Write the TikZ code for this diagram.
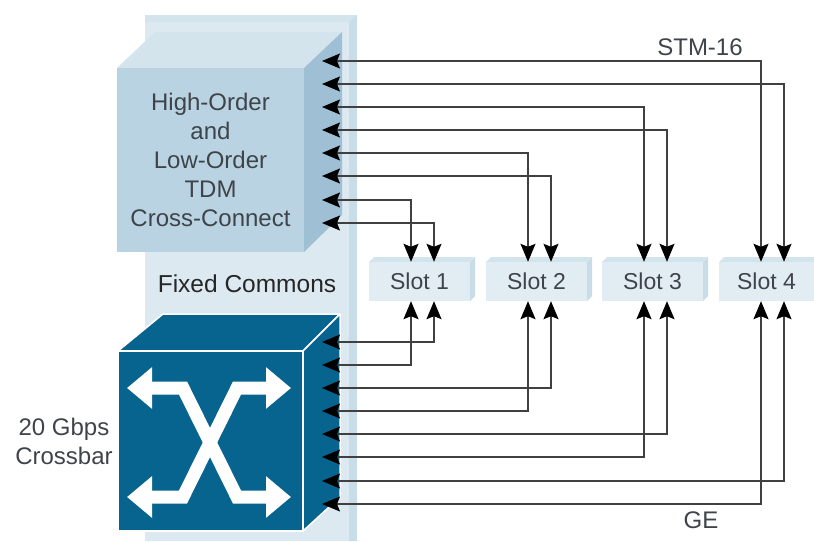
\documentclass[tikz,border=0pt]{standalone}
\usepackage{fontspec}
\setmainfont{Liberation Sans}
\usetikzlibrary{arrows.meta}
\definecolor{panelfront}{HTML}{DCE9F1}
\definecolor{panelside}{HTML}{C9DDE9}
\definecolor{slotfront}{HTML}{E1ECF3}
\definecolor{tdmfront}{HTML}{B9D3E2}
\definecolor{tdmtop}{HTML}{D4E4ED}
\definecolor{tdmside}{HTML}{9FC0D4}
\definecolor{xbarblue}{HTML}{07648F}
\definecolor{inktext}{HTML}{3E444A}
\tikzstyle{textlabel} = [text=inktext, font=\fontsize{24}{29}\selectfont, align=center]
\tikzstyle{slotbox} = [rectangle, fill=slotfront, text=inktext, inner sep=0pt,
    minimum width=101, minimum height=39, font=\fontsize{23}{26}\selectfont]
\tikzstyle{wire} = [line width=1.2pt, draw=black!75,
    {Stealth[length=18pt,width=15pt,inset=3pt,color=black]}-{Stealth[length=18pt,width=15pt,inset=3pt,color=black]}]
\tikzstyle{xarrow} = [line width=13pt, draw=white, line join=miter,
    {Triangle[length=25pt,width=40pt]}-{Triangle[length=25pt,width=40pt]}]

\begin{document}
\begin{tikzpicture}[x=1pt, y=-1pt]
    \useasboundingbox (0,0) rectangle (814,541);

    % fixed commons panel
    \fill [panelside] (145,22) -- (152,15) -- (357,15) -- (357,541) -- (145,541) -- cycle;
    \fill [panelfront] (145,22) -- (349,22) -- (349,541) -- (145,541) -- cycle;
    \fill [tdmtop] (145,15) -- (357,15) -- (349,22) -- (145,22) -- cycle;

    % tdm cube
    \fill [tdmtop] (117,68) -- (155,32) -- (342,32) -- (304,68) -- cycle;
    \fill [tdmside] (304,68) -- (342,32) -- (342,215) -- (304,252) -- cycle;
    \node (tdm) [textlabel, fill=tdmfront, minimum width=187, minimum height=184, inner sep=0pt]
        at (210.5,160) {High-Order\\and\\Low-Order\\TDM\\Cross-Connect};

    % crossbar cube
    \fill [xbarblue, draw=white, line width=1.5pt, line join=round] (118,351) -- (163,314) -- (340,314) -- (303,351) -- cycle;
    \fill [xbarblue, draw=white, line width=1.5pt, line join=round] (303,351) -- (340,314) -- (340,497) -- (303,531) -- cycle;
    \node (xbar) [fill=xbarblue, draw=white, line width=1.5pt, minimum width=185, minimum height=180, inner sep=0pt] at (210.5,441) {};
    \coordinate (xa) at (127,388);
    \coordinate (xb) at (183,388);
    \coordinate (xc) at (237,388);
    \coordinate (xd) at (291,388);
    \coordinate (xe) at (127,497);
    \coordinate (xf) at (183,497);
    \coordinate (xg) at (237,497);
    \coordinate (xh) at (291,497);
    \draw [xarrow] (xa) -- (xb) -- (xg) -- (xh);
    \draw [xarrow] (xd) -- (xc) -- (xf) -- (xe);

    % slots
    \fill [panelside] (470,262) -- (475,257) -- (475,296) -- (470,301) -- cycle;
    \fill [panelside] (587,262) -- (592,257) -- (592,296) -- (587,301) -- cycle;
    \fill [panelside] (703,262) -- (708,257) -- (708,296) -- (703,301) -- cycle;
    \fill [tdmtop] (369,262) -- (374,257) -- (475,257) -- (470,262) -- cycle;
    \fill [tdmtop] (486,262) -- (491,257) -- (592,257) -- (587,262) -- cycle;
    \fill [tdmtop] (602,262) -- (607,257) -- (708,257) -- (703,262) -- cycle;
    \fill [tdmtop] (719,262) -- (724,257) -- (814,257) -- (814,262) -- cycle;
    \node (s1) [slotbox] at (419.5,281.5) {Slot 1};
    \node (s2) [slotbox] at (536.5,281.5) {Slot 2};
    \node (s3) [slotbox] at (652.5,281.5) {Slot 3};
    \node (s4) [slotbox, minimum width=95] at (766.5,281.5) {Slot 4};

    % ports on the tdm cube
    \coordinate (t1) at (322,61);
    \coordinate (t2) at (322,84);
    \coordinate (t3) at (322,107);
    \coordinate (t4) at (322,130);
    \coordinate (t5) at (322,153);
    \coordinate (t6) at (322,176);
    \coordinate (t7) at (322,200);
    \coordinate (t8) at (322,223);

    % ports on the crossbar
    \coordinate (c1) at (322,342);
    \coordinate (c2) at (322,365);
    \coordinate (c3) at (322,388);
    \coordinate (c4) at (322,411);
    \coordinate (c5) at (322,434);
    \coordinate (c6) at (322,457);
    \coordinate (c7) at (322,481);
    \coordinate (c8) at (322,504);

    % top connections
    \draw [wire] (t8) -| ([xshift=14.5]s1.north);
    \draw [wire] (t7) -| ([xshift=-8.5]s1.north);
    \draw [wire] (t6) -| ([xshift=14.5]s2.north);
    \draw [wire] (t5) -| ([xshift=-8.5]s2.north);
    \draw [wire] (t4) -| ([xshift=14.5]s3.north);
    \draw [wire] (t3) -| ([xshift=-8.5]s3.north);
    \draw [wire] (t2) -| ([xshift=17.5]s4.north);
    \draw [wire] (t1) -| ([xshift=-5.5]s4.north);

    % bottom connections
    \draw [wire] (c1) -| ([xshift=14.5]s1.south);
    \draw [wire] (c2) -| ([xshift=-8.5]s1.south);
    \draw [wire] (c3) -| ([xshift=14.5]s2.south);
    \draw [wire] (c4) -| ([xshift=-8.5]s2.south);
    \draw [wire] (c5) -| ([xshift=14.5]s3.south);
    \draw [wire] (c6) -| ([xshift=-8.5]s3.south);
    \draw [wire] (c7) -| ([xshift=17.5]s4.south);
    \draw [wire] (c8) -| ([xshift=-5.5]s4.south);

    % labels
    \node (fixed) [textlabel, text=black!85, font=\fontsize{24.5}{29}\selectfont] at (247,284) {Fixed Commons};
    \node (bar) [textlabel] at (64,441) {20 Gbps\\Crossbar};
    \node (stm) [textlabel] at (700,47) {STM-16};
    \node (ge) [textlabel] at (701,520) {GE};
\end{tikzpicture}
\end{document}
